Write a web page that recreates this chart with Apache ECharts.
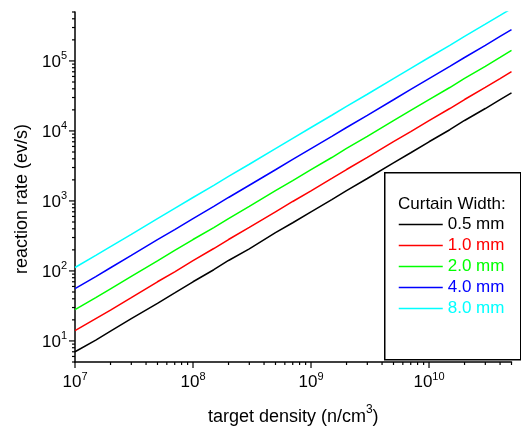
<!DOCTYPE html>
<html>
<head>
<meta charset="utf-8">
<script src="https://cdn.jsdelivr.net/npm/echarts@6/dist/echarts.min.js"></script>
<style>
html,body{margin:0;padding:0;background:#fff;}
#c{width:521px;height:431px;}
</style>
</head>
<body>
<div id="c"></div>
<script>
// ---- data ----
const densities = [1e7, 1.5e7, 2e7, 3e7, 5e7, 7e7, 1e8, 1.5e8, 2e8, 3e8, 5e8, 7e8,
                   1e9, 1.5e9, 2e9, 3e9, 5e9, 7e9, 1e10, 1.5e10, 2e10, 3e10, 4e10, 5e10];
const rate05 = [7.0, 10.3, 13.8, 20.8, 34.5, 48.5, 70, 104, 141, 207, 352, 488,
                698, 1045, 1400, 2090, 3500, 4880, 7000, 10400, 14100, 20900, 28000, 35000];
const rate10 = [14.0, 20.8, 27.5, 41.5, 70, 97, 140, 209, 281, 418, 700, 982,
                1395, 2100, 2810, 4180, 7020, 9750, 14000, 20900, 28100, 41800, 56000, 70500];
const rate20 = [28, 41.5, 55.5, 83.5, 139, 196, 281, 416, 560, 838, 1400, 1950,
                2800, 4170, 5620, 8350, 14000, 19600, 28000, 41700, 56300, 83600, 112000, 141000];
const rate40 = [56, 83, 111, 167, 280, 390, 560, 835, 1120, 1675, 2790, 3910,
                5600, 8380, 11200, 16700, 27900, 39200, 56000, 83700, 112000, 167000, 224000, 281000];
const rate80 = [112, 167, 223, 333, 558, 782, 1120, 1670, 2240, 3340, 5590, 7820,
                11200, 16750, 22400, 33400, 55900, 78300, 112000, 167000, 224000, 335000, 447000, 560000];
const seriesNames = ['0.5 mm', '1.0 mm', '2.0 mm', '4.0 mm', '8.0 mm'];
const seriesColors = ['#000000', '#ff0000', '#00ff00', '#0000ff', '#00ffff'];
const legendTitle = 'Curtain Width:';
const xTitle = 'target density (n/cm';
const xTitleSup = '3';
const yTitle = 'reaction rate (ev/s)';
const X_MIN = 1e7, X_MAX = 5e10, Y_MIN = 5, Y_MAX = 5e5;
const xMajorTicks = [1e7, 1e8, 1e9, 1e10];
const yMajorTicks = [1e1, 1e2, 1e3, 1e4, 1e5];

// ---- build ----
const allRates = [rate05, rate10, rate20, rate40, rate80];
const FONT = "'Liberation Sans', Arial, sans-serif";

function minorTicks(lo, hi) {
  const out = [];
  for (let e = Math.floor(Math.log10(lo)) - 1; e <= Math.ceil(Math.log10(hi)); e++) {
    for (let m = 1; m <= 9; m++) {
      const v = m * Math.pow(10, e);
      if (v >= lo * 0.9999 && v <= hi * 1.0001) out.push([v, m === 1]);
    }
  }
  return out;
}
const xTicks = minorTicks(X_MIN, X_MAX).map(t => [t[0], Y_MIN, t[1] ? 6 : 3]);
const yTicks = minorTicks(Y_MIN, Y_MAX).map(t => [X_MIN, t[0], t[1] ? 6 : 3]);

function powLabel(v) {
  const e = Math.log10(v);
  const r = Math.round(e);
  if (Math.abs(e - r) > 1e-6) return '';
  return '{b|10}{s|' + r + '}';
}
const labelRich = {
  b: {fontSize: 17, fontFamily: FONT, color: '#000', lineHeight: 20, verticalAlign: 'bottom'},
  s: {fontSize: 11, fontFamily: FONT, color: '#000', lineHeight: 11, verticalAlign: 'top'}
};

const lineSeries = allRates.map((arr, i) => ({
  name: seriesNames[i],
  type: 'line',
  symbol: 'none',
  clip: true,
  data: densities.map((d, j) => [d, arr[j]]),
  lineStyle: {color: seriesColors[i], width: 1.5},
  itemStyle: {color: seriesColors[i]},
  z: 2
}));

const chart = echarts.init(document.getElementById('c'), null, {renderer: 'canvas'});
chart.setOption({
  animation: false,
  backgroundColor: '#fff',
  grid: {left: 75, right: 9.5, top: 12, bottom: 67, containLabel: false},
  xAxis: {
    type: 'log', logBase: 10, min: X_MIN, max: X_MAX,
    name: '{a|' + xTitle + '}{s|' + xTitleSup + '}{a|)}',
    nameLocation: 'middle', nameGap: 42,
    nameTextStyle: {
      rich: {
        a: {fontSize: 18, fontFamily: FONT, color: '#000', lineHeight: 22, verticalAlign: 'bottom'},
        s: {fontSize: 12, fontFamily: FONT, color: '#000', lineHeight: 12, verticalAlign: 'top'}
      }
    },
    axisLine: {show: true, lineStyle: {color: '#000', width: 1.5}},
    axisTick: {show: false},
    minorTick: {show: false},
    splitLine: {show: false},
    axisLabel: {formatter: powLabel, rich: labelRich, margin: 9, showMinLabel: true, showMaxLabel: true, hideOverlap: false}
  },
  yAxis: {
    type: 'log', logBase: 10, min: Y_MIN, max: Y_MAX,
    name: yTitle, nameLocation: 'middle', nameGap: 43,
    nameTextStyle: {fontSize: 18, fontFamily: FONT, color: '#000', padding: [0, 24, 0, 0]},
    axisLine: {show: true, lineStyle: {color: '#000', width: 1.5}},
    axisTick: {show: false},
    minorTick: {show: false},
    splitLine: {show: false},
    axisLabel: {formatter: powLabel, rich: labelRich, margin: 8, showMinLabel: true, showMaxLabel: true, hideOverlap: false}
  },
  legend: {
    data: seriesNames.map((n, i) => ({name: n, textStyle: {color: seriesColors[i]}})),
    orient: 'vertical',
    left: 398, top: 216,
    padding: 0,
    itemWidth: 44, itemHeight: 14, itemGap: 4,
    itemStyle: {opacity: 0},
    lineStyle: {width: 1.5},
    textStyle: {fontSize: 17, fontFamily: FONT},
    selectedMode: false,
    z: 6
  },
  graphic: [
    {type: 'rect', left: 384, top: 172, z: 5,
     shape: {width: 136, height: 187},
     style: {fill: '#fff', stroke: '#000', lineWidth: 1.5}},
    {type: 'text', left: 398, top: 196, z: 7,
     style: {text: legendTitle, font: '17px ' + FONT, fill: '#000'}}
  ],
  series: lineSeries.concat([
    {
      type: 'custom', silent: true, clip: false, z: 3,
      data: xTicks,
      encode: {x: 0, y: 1},
      renderItem: function (params, api) {
        const p = api.coord([api.value(0), api.value(1)]);
        const len = api.value(2);
        return {type: 'line', shape: {x1: p[0], y1: p[1], x2: p[0], y2: p[1] + len},
                style: {stroke: '#000', lineWidth: 1.2}};
      }
    },
    {
      type: 'custom', silent: true, clip: false, z: 3,
      data: yTicks,
      encode: {x: 0, y: 1},
      renderItem: function (params, api) {
        const p = api.coord([api.value(0), api.value(1)]);
        const len = api.value(2);
        return {type: 'line', shape: {x1: p[0], y1: p[1], x2: p[0] - len, y2: p[1]},
                style: {stroke: '#000', lineWidth: 1.2}};
      }
    }
  ])
});
</script>
</body>
</html>
